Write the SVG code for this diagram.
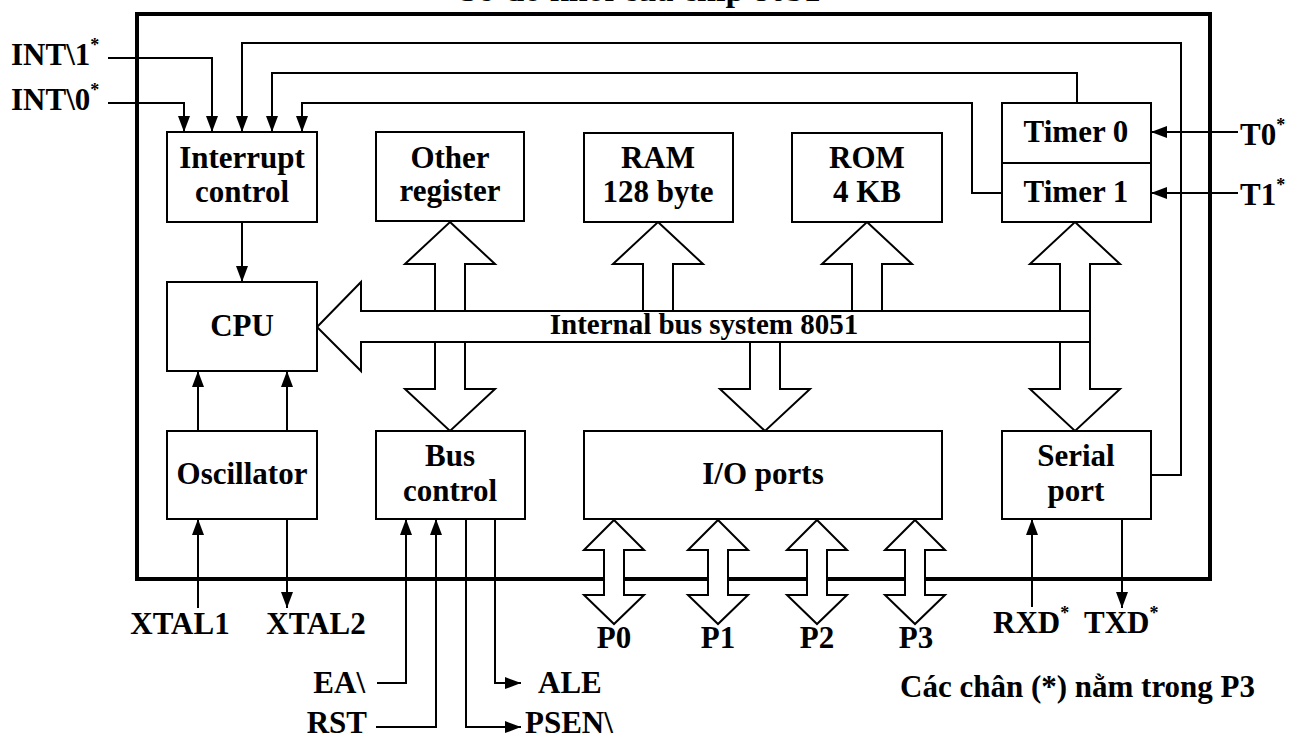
<svg xmlns="http://www.w3.org/2000/svg" width="1293" height="738" viewBox="0 0 1293 738">
  <style>
    text { font-family: "Liberation Serif", "Times New Roman", serif; font-weight: bold; font-size: 31px; fill: #000; }
    .c { text-anchor: middle; }
    .e { text-anchor: end; }
    .sup { font-size: 18px; }
    .title { font-size: 34px; }
    .buslabel { font-size: 29px; }
    .box { fill: #fff; stroke: #000; stroke-width: 2; }
    .wire { fill: none; stroke: #000; stroke-width: 2; }
    .bus { fill: #fff; stroke: #000; stroke-width: 2; stroke-linejoin: miter; }
    .frame { fill: none; stroke: #000; stroke-width: 4; }
  </style>
  <defs>
    <marker id="ah" viewBox="0 0 16 12" refX="16" refY="6" markerWidth="16" markerHeight="12" markerUnits="userSpaceOnUse" orient="auto">
      <path d="M0,0 L16,6 L0,12 z" fill="#000"/>
    </marker>
  </defs>

  <rect width="1293" height="738" fill="#fff"/>

  <!-- heading, clipped by the top edge -->
  <text class="c title" x="640" y="1">Sơ đồ khối của chip 8051</text>

  <!-- chip outline -->
  <rect id="chip" class="frame" x="137" y="14" width="1073" height="565"/>

  <!-- signal connectors -->
  <g id="connectors">
    <!-- external interrupt inputs -->
    <polyline class="wire" points="108,58 212,58 212,132" marker-end="url(#ah)"/>
    <polyline class="wire" points="108,103 184,103 184,132" marker-end="url(#ah)"/>
    <!-- serial port interrupt -->
    <polyline class="wire" points="1151,475 1181,475 1181,43 242,43 242,132" marker-end="url(#ah)"/>
    <!-- timer 0 interrupt -->
    <polyline class="wire" points="1077,103 1077,73 272,73 272,132" marker-end="url(#ah)"/>
    <!-- timer 1 interrupt -->
    <polyline class="wire" points="1002,193 972,193 972,103 302,103 302,132" marker-end="url(#ah)"/>
    <!-- interrupt control to CPU -->
    <line class="wire" x1="242" y1="222" x2="242" y2="282" marker-end="url(#ah)"/>
    <!-- oscillator to CPU -->
    <line class="wire" x1="198" y1="431" x2="198" y2="371" marker-end="url(#ah)"/>
    <line class="wire" x1="287" y1="431" x2="287" y2="371" marker-end="url(#ah)"/>
    <!-- crystal pins -->
    <line class="wire" x1="198" y1="608" x2="198" y2="519" marker-end="url(#ah)"/>
    <line class="wire" x1="287" y1="519" x2="287" y2="608" marker-end="url(#ah)"/>
    <!-- bus control pins -->
    <polyline class="wire" points="377,683 406,683 406,519" marker-end="url(#ah)"/>
    <polyline class="wire" points="376,727 436,727 436,519" marker-end="url(#ah)"/>
    <polyline class="wire" points="495,519 495,683 521,683" marker-end="url(#ah)"/>
    <polyline class="wire" points="466,519 466,727 521,727" marker-end="url(#ah)"/>
    <!-- timer inputs -->
    <line class="wire" x1="1238" y1="132" x2="1151" y2="132" marker-end="url(#ah)"/>
    <line class="wire" x1="1238" y1="193" x2="1151" y2="193" marker-end="url(#ah)"/>
    <!-- serial pins -->
    <line class="wire" x1="1032" y1="607" x2="1032" y2="519" marker-end="url(#ah)"/>
    <line class="wire" x1="1122" y1="519" x2="1122" y2="608" marker-end="url(#ah)"/>

    <!-- bus branches -->
    <polygon class="bus" points="450,222 495,264 465,264 465,389 495,389 450,431 405,389 435,389 435,264 405,264"/>
    <polygon class="bus" points="658,222 703,264 673,264 673,320 643,320 643,264 613,264"/>
    <polygon class="bus" points="867,222 912,264 882,264 882,320 852,320 852,264 822,264"/>
    <polygon class="bus" points="1075,222 1120,264 1090,264 1090,389 1120,389 1075,431 1030,389 1060,389 1060,264 1030,264"/>
    <polygon class="bus" points="750,330 780,330 780,389 810,389 765,431 720,389 750,389"/>
    <!-- internal bus -->
    <polygon class="bus" points="1090,311 361,311 361,282 317,327 361,371 361,342 1090,342"/>

    <!-- port pins -->
    <polygon class="bus" points="614,520 644,550 624,550 624,595 644,595 614,624 584,595 604,595 604,550 584,550"/>
    <polygon class="bus" points="718,520 748,550 728,550 728,595 748,595 718,624 688,595 708,595 708,550 688,550"/>
    <polygon class="bus" points="817,520 847,550 827,550 827,595 847,595 817,624 787,595 807,595 807,550 787,550"/>
    <polygon class="bus" points="915,520 945,550 925,550 925,595 945,595 915,624 885,595 905,595 905,550 885,550"/>
  </g>

  <text class="c buslabel" x="704" y="334">Internal bus system 8051</text>

  <!-- blocks -->
  <g id="interrupt-control">
    <rect class="box" x="167" y="132" width="150" height="90"/>
    <text class="c" x="242" y="168">Interrupt</text>
    <text class="c" x="242" y="202">control</text>
  </g>
  <g id="other-register">
    <rect class="box" x="376" y="132" width="148" height="89"/>
    <text class="c" x="450" y="168">Other</text>
    <text class="c" x="450" y="201">register</text>
  </g>
  <g id="ram">
    <rect class="box" x="584" y="133" width="149" height="89"/>
    <text class="c" x="658" y="168">RAM</text>
    <text class="c" x="658" y="202">128 byte</text>
  </g>
  <g id="rom">
    <rect class="box" x="792" y="133" width="150" height="89"/>
    <text class="c" x="867" y="168">ROM</text>
    <text class="c" x="867" y="202">4 KB</text>
  </g>
  <g id="timers">
    <rect class="box" x="1002" y="103" width="149" height="119"/>
    <line class="wire" x1="1002" y1="163" x2="1151" y2="163"/>
    <text class="c" x="1076" y="142">Timer 0</text>
    <text class="c" x="1076" y="202">Timer 1</text>
  </g>
  <g id="cpu">
    <rect class="box" x="167" y="282" width="150" height="89"/>
    <text class="c" x="242" y="336">CPU</text>
  </g>
  <g id="oscillator">
    <rect class="box" x="167" y="431" width="150" height="88"/>
    <text class="c" x="242" y="484">Oscillator</text>
  </g>
  <g id="bus-control">
    <rect class="box" x="376" y="431" width="149" height="88"/>
    <text class="c" x="450" y="466">Bus</text>
    <text class="c" x="450" y="501">control</text>
  </g>
  <g id="io-ports">
    <rect class="box" x="584" y="431" width="358" height="88"/>
    <text class="c" x="763" y="484">I/O ports</text>
  </g>
  <g id="serial-port">
    <rect class="box" x="1002" y="431" width="149" height="88"/>
    <text class="c" x="1076" y="466">Serial</text>
    <text class="c" x="1076" y="501">port</text>
  </g>

  <!-- pin labels -->
  <g id="pins">
    <text x="11" y="65">INT\1<tspan class="sup" dy="-14">*</tspan></text>
    <text x="11" y="110">INT\0<tspan class="sup" dy="-14">*</tspan></text>
    <text x="1240" y="145">T0<tspan class="sup" dy="-14">*</tspan></text>
    <text x="1240" y="205">T1<tspan class="sup" dy="-14">*</tspan></text>
    <text class="c" x="180" y="634">XTAL1</text>
    <text class="c" x="316" y="634">XTAL2</text>
    <text class="c" x="614" y="648">P0</text>
    <text class="c" x="718" y="648">P1</text>
    <text class="c" x="817" y="648">P2</text>
    <text class="c" x="916" y="648">P3</text>
    <text x="993" y="633">RXD<tspan class="sup" dy="-14">*</tspan></text>
    <text x="1084" y="633">TXD<tspan class="sup" dy="-14">*</tspan></text>
    <text class="e" x="365" y="693">EA\</text>
    <text class="e" x="367" y="733">RST</text>
    <text x="538" y="693">ALE</text>
    <text x="525" y="733">PSEN\</text>
    <text x="900" y="697">Các chân (*) nằm trong P3</text>
  </g>
</svg>
